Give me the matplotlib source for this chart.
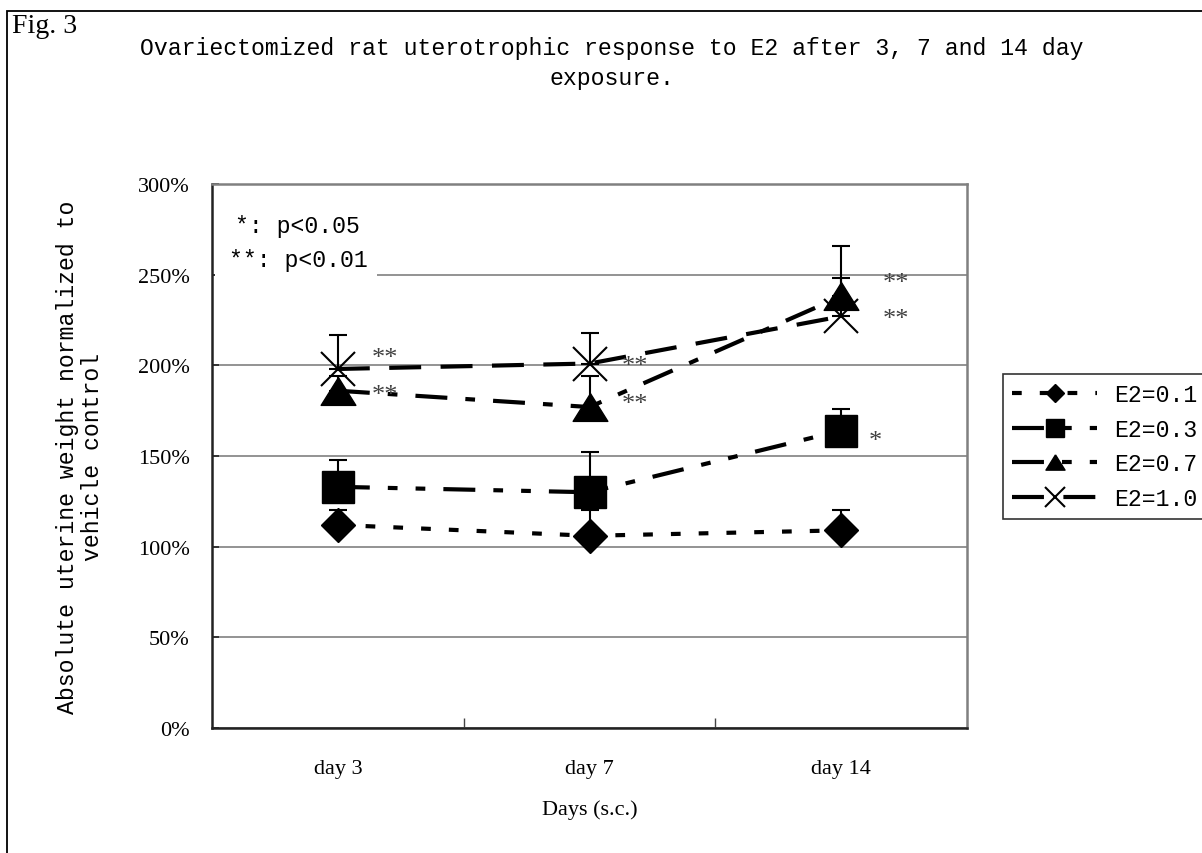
import numpy as np
import matplotlib
matplotlib.use("Agg")
import matplotlib.pyplot as plt
from matplotlib.patches import Rectangle

plt.rcParams['lines.scale_dashes'] = False

# ---- data ----
categories = ["day 3", "day 7", "day 14"]
series_labels = ["E2=0.1", "E2=0.3", "E2=0.7", "E2=1.0"]
e2_01 = [112, 106, 109]
e2_03 = [133, 130, 164]
e2_07 = [186, 177, 238]
e2_10 = [198, 201, 227]
err_01 = [8, 14, 11]
err_03 = [15, 22, 12]
err_07 = [8, 17, 28]
err_10 = [19, 17, 21]
yticks = [0, 50, 100, 150, 200, 250, 300]
ytick_labels = ["0%", "50%", "100%", "150%", "200%", "250%", "300%"]
# significance marks: (series index, category index, text)
sig_marks = [(3, 0, "**"), (2, 0, "**"), (3, 1, "**"), (2, 1, "**"),
             (2, 2, "**"), (3, 2, "**"), (1, 2, "*")]

W, H = 1202, 854
fig = plt.figure(figsize=(W / 100, H / 100), dpi=100)
ax = fig.add_axes([212 / W, 1 - 729 / H, 755 / W, 544 / H])

MONO = "Liberation Mono"
SERIF = "Liberation Serif"

tri = [(0, 0.8), (-1, -0.8), (1, -0.8), (0, 0.8)]
values = [e2_01, e2_03, e2_07, e2_10]
errs = [err_01, err_03, err_07, err_10]
markers = ["D", "s", tri, "x"]
msizes = [17.5, 22.5, 25, 25]
dashes = [(0, (7, 13)), (0, (23, 13, 7, 13, 7, 13)), (0, (23, 13, 7, 13)), (0, (23, 14))]

x = np.arange(len(categories))
handles = []
for i in range(4):
    v = np.array(values[i], dtype=float)
    e = np.array(errs[i], dtype=float)
    ax.errorbar(x, v, yerr=[np.zeros_like(e), e], fmt="none", ecolor="black",
                elinewidth=1.5, capsize=6.5, capthick=1.5, zorder=3)
    ln, = ax.plot(x, v, color="black", lw=3, linestyle=dashes[i], marker=markers[i],
                  ms=msizes[i], mfc="black", mec="black",
                  mew=1.5 if i == 3 else 1, zorder=4, label=series_labels[i])
    handles.append(ln)

# significance marks (offsets in points from the data point)
offsets = {(3, 0): (24.5, 8), (2, 0): (24.5, -3), (3, 1): (23, -1.5), (2, 1): (23, 2.5),
           (2, 2): (30, 9.5), (3, 2): (30, -2), (1, 2): (19.5, -7.5)}
for si, ci, t in sig_marks:
    dx, dy = offsets[(si, ci)]
    ax.annotate(t, xy=(x[ci], values[si][ci]), xytext=(dx, dy), textcoords="offset points",
                ha="left", va="center", fontsize=19, family=SERIF, color="#404040", zorder=5)

ax.set_xlim(-0.5, 2.5)
ax.set_ylim(0, 300)
ax.set_yticks(yticks)
ax.set_yticklabels(ytick_labels, family=SERIF, fontsize=16)
ax.set_xticks(x)
ax.set_xticklabels(categories, family=SERIF, fontsize=16)
ax.set_xticks([0.5, 1.5], minor=True)
ax.tick_params(axis="x", which="major", length=0, pad=22)
ax.tick_params(axis="x", which="minor", direction="in", length=7, width=1, color="#444444")
ax.tick_params(axis="y", which="major", direction="in", length=5, width=1.2, pad=16, color="#222222")
ax.tick_params(axis="y", right=False)

ax.yaxis.grid(True, color="#808080", lw=1.2)
ax.set_axisbelow(True)
for s in ["top", "right"]:
    ax.spines[s].set_color("#808080")
    ax.spines[s].set_linewidth(1.8)
for s in ["left", "bottom"]:
    ax.spines[s].set_color("#222222")
    ax.spines[s].set_linewidth(1.8)

# white box behind p-value key
ax.add_patch(Rectangle((0.004, 0.82), 0.215, 0.155, transform=ax.transAxes,
                       facecolor="white", edgecolor="none", zorder=1))
ax.text(0.0305, 0.923, "*: p<0.05", transform=ax.transAxes, family=MONO, fontsize=16.7,
        ha="left", va="center", zorder=2)
ax.text(0.0225, 0.862, "**: p<0.01", transform=ax.transAxes, family=MONO, fontsize=16.7,
        ha="left", va="center", zorder=2)

# titles and labels
fig.text(12 / W, 1 - 33 / H, "Fig. 3", family=SERIF, fontsize=20, ha="left", va="baseline")
fig.text(612 / W, 1 - 49 / H, "Ovariectomized rat uterotrophic response to E2 after 3, 7 and 14 day",
         family=MONO, fontsize=16.7, ha="center", va="center")
fig.text(612 / W, 1 - 78 / H, "exposure.", family=MONO, fontsize=16.7, ha="center", va="center")
fig.text(80 / W, 1 - 457 / H, "Absolute uterine weight normalized to\nvehicle control",
         family=MONO, fontsize=16.7, ha="center", va="center", rotation=90, linespacing=1.1)
fig.text(590 / W, 1 - 810 / H, "Days (s.c.)", family=SERIF, fontsize=16, ha="center", va="center")

# legend
leg = fig.legend(handles=handles, labels=series_labels, loc="upper left",
                 bbox_to_anchor=(1003 / W, 1 - 375 / H), bbox_transform=fig.transFigure,
                 borderaxespad=0, frameon=True, fancybox=False, markerscale=0.55,
                 handlelength=3.66, handletextpad=0.75, labelspacing=0.5,
                 borderpad=0.4, prop={"family": MONO, "size": 16.7})
leg.get_frame().set_edgecolor("black")
leg.get_frame().set_linewidth(1.2)

# outer chart border
fig.add_artist(Rectangle((7 / W, -0.1), 1.2, 1 - 12 / H + 0.1, transform=fig.transFigure,
                         fill=False, edgecolor="black", lw=1.3))

fig.savefig("out.png", dpi=100)
